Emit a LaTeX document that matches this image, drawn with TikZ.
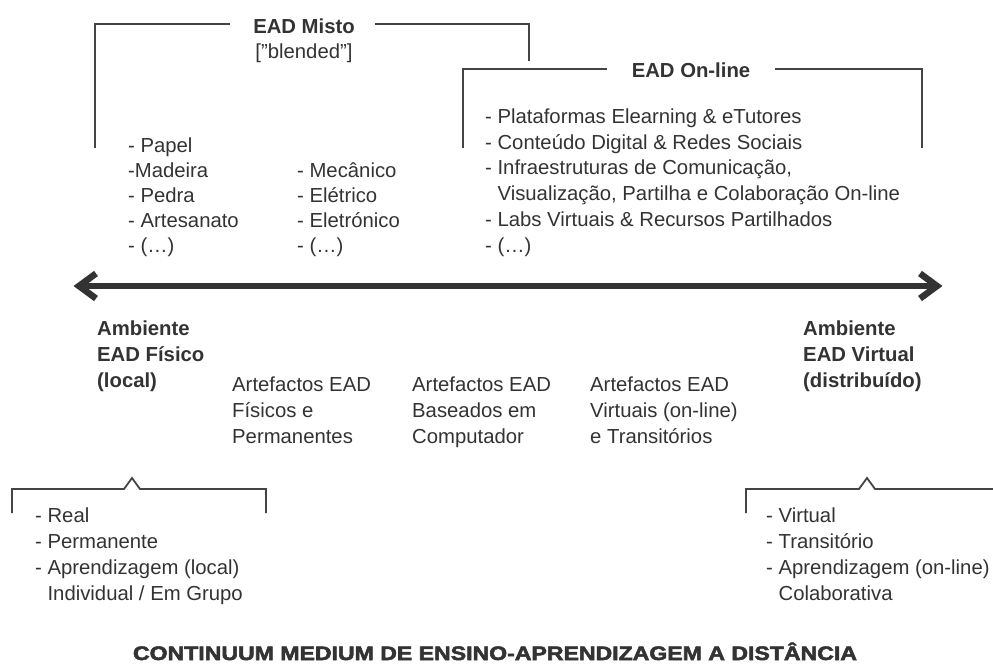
\documentclass[tikz,border=0pt]{standalone}
\usepackage{fontspec}
\setmainfont{Liberation Sans}
\newfontfamily\titlefont[FakeBold=2.5]{Liberation Sans Bold}
\usepackage{graphicx}
\definecolor{txtgray}{HTML}{333333}
\definecolor{linegray}{HTML}{444444}
\begin{document}
\begin{tikzpicture}[x=1pt,y=-1pt,
  txt/.style={anchor=base west, inner sep=0pt, align=left, text=txtgray,
    font=\fontsize{20.3pt}{26pt}\selectfont},
  bold/.style={txt, font=\fontsize{20.3pt}{26pt}\selectfont\bfseries},
  headtxt/.style={anchor=base, inner sep=0pt, align=center, text=txtgray,
    font=\fontsize{20.3pt}{25pt}\selectfont},
  bracket/.style={draw=linegray, line width=1.8pt},
  bigarrow/.style={draw=txtgray, line width=6pt},
  chevron/.style={draw=txtgray, line width=6.5pt, miter limit=10},
  title/.style={anchor=base, inner sep=0pt, text=txtgray,
    font=\fontsize{19.5pt}{22pt}\titlefont}]
\useasboundingbox (0,0) rectangle (993,664);
\fill[white] (0,0) rectangle (993,664);

% --- top brackets
\node[headtxt, font=\fontsize{20.3pt}{25pt}\selectfont\bfseries] (misto) at (304,33) {EAD Misto};
\node[headtxt] (blended) at (304,58) {[\char"201D blended\char"201D]};
\draw[bracket] (95,148) -- (95,24) -- (230,24);
\draw[bracket] (375,24) -- (529,24) -- (529,61);

\node[headtxt, font=\fontsize{20.3pt}{25pt}\selectfont\bfseries] (online) at (691,77) {EAD On-line};
\draw[bracket] (463,148) -- (463,69) -- (607,69);
\draw[bracket] (775,69) -- (922,69) -- (922,148);

% --- lists above the arrow (anchor = baseline of last line)
\node[txt, font=\fontsize{20.3pt}{25pt}\selectfont] (fis) at (128,252) {- Papel\\-Madeira\\- Pedra\\- Artesanato\\- (…)};
\node[txt, font=\fontsize{20.3pt}{25pt}\selectfont] (mec) at (297,252) {- Mecânico\\- Elétrico\\- Eletrónico\\- (…)};
\node[txt, font=\fontsize{20.3pt}{25.7pt}\selectfont] (virt) at (485,252) {- Plataformas Elearning \& eTutores\\- Conteúdo Digital \& Redes Sociais\\- Infraestruturas de Comunicação,\\\hphantom{- }Visualização, Partilha e Colaboração On-line\\- Labs Virtuais \& Recursos Partilhados\\- (…)};

% --- continuum arrow
\coordinate (aL) at (80,286);
\coordinate (aR) at (936,286);
\draw[bigarrow] (aL) -- (aR);
\draw[chevron] (96,273.5) -- (79,286) -- (96,298.5);
\draw[chevron] (920,273.5) -- (937,286) -- (920,298.5);

% --- environment labels
\node[bold] (ambL) at (97,387) {Ambiente\\EAD Físico\\(local)};
\node[bold] (ambR) at (803,387) {Ambiente\\EAD Virtual\\(distribuído)};

% --- artefacts
\node[txt] (art1) at (232,443) {Artefactos EAD\\Físicos e\\Permanentes};
\node[txt] (art2) at (412,443) {Artefactos EAD\\Baseados em\\Computador};
\node[txt] (art3) at (590,443) {Artefactos EAD\\Virtuais (on-line)\\e Transitórios};

% --- bottom brackets
\draw[bracket] (12,513) -- (12,489) -- (124,489) -- (132,478) -- (140,489) -- (266,489) -- (266,513);
\node[txt] (carL) at (35,600) {- Real\\- Permanente\\- Aprendizagem (local)\\\hphantom{- }Individual / Em Grupo};

\draw[bracket] (746,513) -- (746,489) -- (859,489) -- (867,478) -- (875,489) -- (993,489);
\node[txt] (carR) at (766,600) {- Virtual\\- Transitório\\- Aprendizagem (on-line)\\\hphantom{- }Colaborativa};

% --- title
\node[title] (ttl) at (495,660) {\resizebox{724pt}{\height}{CONTINUUM MEDIUM DE ENSINO-APRENDIZAGEM A DISTÂNCIA}};
\end{tikzpicture}
\end{document}
